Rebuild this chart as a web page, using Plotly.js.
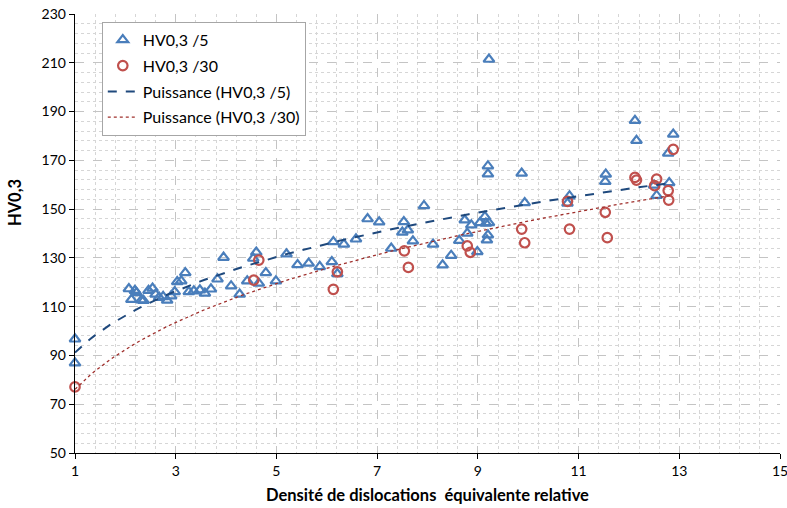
<!DOCTYPE html>
<html>
<head>
<meta charset="utf-8">
<script src="https://cdn.plot.ly/plotly-3.0.1.min.js"></script>
<style>html,body{margin:0;padding:0;background:#fff;}#chart{width:787px;height:508px;}</style>
</head>
<body>
<div id="chart"></div>
<script>
// HV0,3 /5 series
var hv5X = [1.00,1.00,2.07,2.12,2.19,2.22,2.32,2.36,2.46,2.54,2.60,2.67,2.75,2.83,2.91,2.98,3.03,3.11,3.19,3.26,3.36,3.48,3.58,3.70,3.83,3.95,4.10,4.27,4.42,4.54,4.60,4.65,4.79,4.99,5.20,5.42,5.64,5.86,6.10,6.21,6.13,6.34,6.58,6.81,7.04,7.28,7.50,7.53,7.61,7.71,7.93,8.11,8.30,8.47,8.63,8.74,8.79,8.87,8.99,9.04,9.14,9.16,9.22,9.20,9.18,9.22,9.20,9.20,9.87,9.93,10.82,10.78,11.54,11.53,12.12,12.15,12.50,12.55,12.78,12.80,12.88];
var hv5Y = [96.7,86.9,117.3,112.9,116.6,115.7,112.7,112.5,116.6,117.5,115.1,113.8,114.1,112.6,114.4,116.1,120.2,120.5,123.9,116.1,116.4,116.8,115.5,117.2,121.3,130.2,118.5,115.1,120.5,129.8,132.3,119.6,123.9,120.5,131.6,127.2,127.8,126.4,128.4,123.5,136.6,135.6,137.7,146.0,144.7,133.9,140.5,144.8,141.4,136.9,151.4,135.6,127.1,131.0,137.1,145.5,140.1,143.5,132.5,144.4,146.9,144.2,144.4,139.4,137.3,211.4,167.7,164.4,164.7,152.6,155.4,152.4,164.3,161.3,186.3,178.1,159.8,155.6,172.9,160.8,180.7];
// HV0,3 /30 series
var hv30X = [1.00,4.55,4.65,6.13,6.21,7.54,7.62,8.79,8.85,9.87,9.93,10.78,10.82,11.53,11.57,12.12,12.15,12.55,12.51,12.78,12.79,12.88];
var hv30Y = [77.1,120.9,129.1,117.1,124.3,132.9,126.1,134.9,132.3,141.8,136.2,153.2,141.8,148.7,138.3,163.0,161.9,162.3,159.6,157.6,153.7,174.5];

var seriesNames = ["HV0,3 /5","HV0,3 /30"];
var trendNames = ["Puissance (HV0,3 /5)","Puissance (HV0,3 /30)"];
var xTitle = "Densité de dislocations  équivalente relative";
var yTitle = "HV0,3";

// Power trendline (least squares on ln-ln, as in a spreadsheet power trendline)
function powerFit(xs, ys){
  var n = xs.length, sx=0, sy=0, sxx=0, sxy=0;
  for (var i=0;i<n;i++){ var lx=Math.log(xs[i]), ly=Math.log(ys[i]); sx+=lx; sy+=ly; sxx+=lx*lx; sxy+=lx*ly; }
  var b = (n*sxy - sx*sy)/(n*sxx - sx*sx);
  var a = Math.exp((sy - b*sx)/n);
  var xmin = Math.min.apply(null, xs), xmax = Math.max.apply(null, xs);
  var tx=[], ty=[];
  for (var k=0;k<=120;k++){ var x = xmin + (xmax-xmin)*k/120; tx.push(x); ty.push(a*Math.pow(x,b)); }
  return {x:tx, y:ty};
}
var t5 = powerFit(hv5X, hv5Y);
var t30 = powerFit(hv30X, hv30Y);

var font = "Lato, 'Open Sans', sans-serif";

var traces = [
  {x: hv5X, y: hv5Y, mode:'markers', type:'scatter', name: seriesNames[0], legendgroup:'a', cliponaxis:false,
   marker:{symbol:'triangle-up-open', size:9.5, color:'#4A7EBB', line:{width:2.2, color:'#4A7EBB'}}},
  {x: hv30X, y: hv30Y, mode:'markers', type:'scatter', name: seriesNames[1], legendgroup:'b', cliponaxis:false,
   marker:{symbol:'circle-open', size:9.5, color:'#C0504D', line:{width:2.2, color:'#C0504D'}}},
  {x: t5.x, y: t5.y, mode:'lines', type:'scatter', name: trendNames[0], legendgroup:'c',
   line:{color:'#1F497D', width:2, dash:'dash'}},
  {x: t30.x, y: t30.y, mode:'lines', type:'scatter', name: trendNames[1], legendgroup:'d',
   line:{color:'#A0302D', width:1.3, dash:'dot'}}
];

var layout = {
  width: 787, height: 508,
  margin: {l:75, r:7, t:14, b:55},
  paper_bgcolor:'#fff', plot_bgcolor:'#fff',
  font: {family: font, size: 14, color:'#000'},
  showlegend: true,
  legend: {x:0.038, y:0.982, xanchor:'left', yanchor:'top', bgcolor:'#fff',
           bordercolor:'#A6A6A6', borderwidth:1, font:{family:font, size:16, color:'#000'},
           traceorder:'grouped', tracegroupgap:2},
  xaxis: {range:[1,15], dtick:2, tick0:1, showline:true, linecolor:'#000', linewidth:1.3,
          ticks:'outside', ticklen:5, tickcolor:'#000', zeroline:false, ticklabeloverflow:'allow',
          showgrid:true, gridcolor:'#C4C4C4', griddash:'dash', gridwidth:1,
          minor:{dtick:0.4, tick0:1, showgrid:true, gridcolor:'#D6D6D6', griddash:'dot', gridwidth:1},
          tickfont:{family:font, size:14},
          title:{text:'<b>'+xTitle+'</b>', font:{family:font, size:16.5}, standoff:11}},
  yaxis: {range:[50,230], dtick:20, tick0:50, showline:true, linecolor:'#000', linewidth:1.3,
          ticks:'outside', ticklen:5, tickcolor:'#000', zeroline:false,
          showgrid:true, gridcolor:'#C4C4C4', griddash:'dash', gridwidth:1,
          minor:{dtick:4, tick0:50, showgrid:true, gridcolor:'#D6D6D6', griddash:'dot', gridwidth:1},
          tickfont:{family:font, size:14}},
  annotations: [
    {text:'<b>'+yTitle+'</b>', xref:'paper', yref:'paper', x:-0.085, y:0.5695, xanchor:'center', yanchor:'middle',
     textangle:-90, showarrow:false, font:{family:font, size:16.5, color:'#000'}}
  ]
};

Plotly.newPlot('chart', traces, layout, {displayModeBar:false, staticPlot:true});
</script>
</body>
</html>
